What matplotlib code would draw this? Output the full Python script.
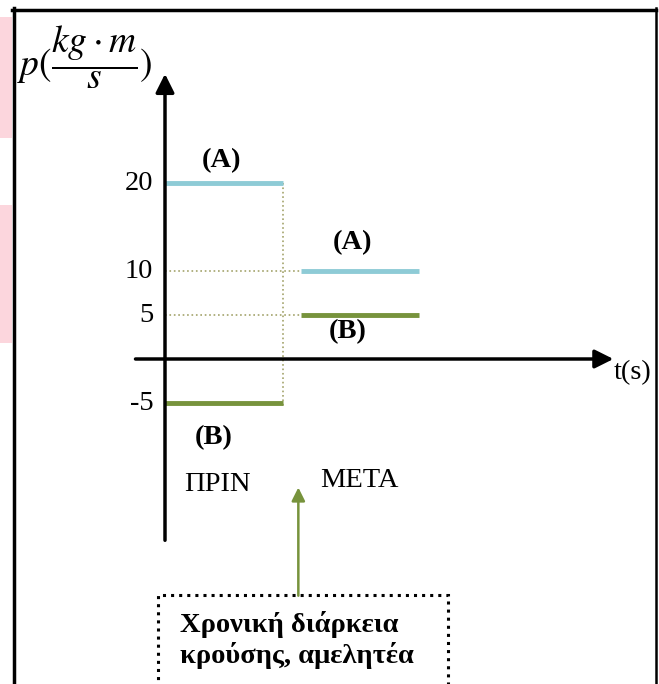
import matplotlib
matplotlib.use("Agg")
import matplotlib.pyplot as plt
from matplotlib.patches import Rectangle
from matplotlib.lines import Line2D

plt.rcParams['font.family'] = ['Liberation Serif', 'DejaVu Serif']
plt.rcParams['mathtext.fontset'] = 'stix'

# data
t_before = [0.0, 1.0]          # interval before the collision
t_after = [1.15, 2.15]         # interval after the collision
p_A = [20, 10]                 # momentum of A before / after
p_B = [-5, 5]                  # momentum of B before / after
tick_vals = [20, 10, 5, -5]
tick_labels = ['20', '10', '5', '-5']

col_A = '#8ecbd6'
col_B = '#77933c'
col_dot = '#a3a36b'
fs = 20.5

W, H = 659, 684
fig = plt.figure(figsize=(W / 100, H / 100), dpi=100)
ax = fig.add_axes([0, 0, 1, 1])
ax.set_axis_off()

# pixel -> data mapping: t=0 at x=165, 118 px per unit; p=0 at y=359, 8.8 px per unit
x0, sx = 165, 118
y0, sy = 359, 8.8
ax.set_xlim(-x0 / sx, (W - x0) / sx)
ax.set_ylim(-(H - y0) / sy, y0 / sy)


def fx(px):
    return px / W


def fy(py):
    return 1 - py / H


# slide background bits: pink patches and black frame
for top, bot in [(17, 138), (205, 343)]:
    fig.add_artist(Rectangle((0, fy(bot)), fx(12), (bot - top) / H,
                             transform=fig.transFigure, color='#fcd6dd', lw=0))
fig.add_artist(Line2D([fx(13.5), fx(13.5)], [fy(8), 0], transform=fig.transFigure, color='k', lw=2.5))
fig.add_artist(Line2D([fx(12), fx(656)], [fy(9.5), fy(9.5)], transform=fig.transFigure, color='k', lw=2.5))
fig.add_artist(Line2D([fx(655.5), fx(655.5)], [fy(8), 0], transform=fig.transFigure, color='k', lw=1.8))

# axes with arrows
ax.annotate('', xy=(0, 32.4), xytext=(0, -20.6),
            arrowprops=dict(arrowstyle='-|>', lw=2.5, color='k', mutation_scale=28, shrinkA=0, shrinkB=0))
ax.annotate('', xy=(3.8, 0), xytext=(-0.25, 0),
            arrowprops=dict(arrowstyle='-|>', lw=2.5, color='k', mutation_scale=28, shrinkA=0, shrinkB=0))

# dotted guide lines
ax.plot([t_before[1], t_before[1]], [p_A[0], p_B[0] - 0.5], ls=':', color=col_dot, lw=1.2)
for v in [p_A[1], p_B[1]]:
    ax.plot([t_before[0], t_after[0]], [v, v], ls=':', color=col_dot, lw=1.2)

# momentum segments
ax.plot(t_before, [p_A[0]] * 2, color=col_A, lw=3.5, solid_capstyle='butt')
ax.plot(t_after, [p_A[1]] * 2, color=col_A, lw=3.5, solid_capstyle='butt')
ax.plot(t_before, [p_B[0]] * 2, color=col_B, lw=3.5, solid_capstyle='butt')
ax.plot(t_after, [p_B[1]] * 2, color=col_B, lw=3.5, solid_capstyle='butt')

# tick labels
for v, lab in zip(tick_vals, tick_labels):
    ax.text(-0.1, v, lab, ha='right', va='center', fontsize=fs)

# segment labels
ax.text(0.48, p_A[0] + 2.5, '(A)', ha='center', va='center', fontsize=fs, fontweight='bold')
ax.text(1.59, p_A[1] + 3.2, '(A)', ha='center', va='center', fontsize=fs, fontweight='bold')
ax.text(1.55, p_B[1] - 1.9, '(B)', ha='center', va='center', fontsize=fs, fontweight='bold')
ax.text(0.41, p_B[0] - 3.9, '(B)', ha='center', va='center', fontsize=fs, fontweight='bold')
ax.text(0.44, -14.3, 'ΠΡΙΝ', ha='center', va='center', fontsize=fs)
ax.text(1.65, -13.8, 'ΜΕΤΑ', ha='center', va='center', fontsize=fs)
ax.text(3.8, -1.6, 't(s)', ha='left', va='center', fontsize=fs)

# axis title
fig.text(fx(85), fy(57), r'$p(\dfrac{kg\cdot m}{s})$', ha='center', va='center', fontsize=27)

# collision-duration note
ax.annotate('', xy=(1.13, -14.6), xytext=(1.13, -26.9),
            arrowprops=dict(arrowstyle='-|>', lw=1.8, color=col_B, mutation_scale=20, shrinkA=0, shrinkB=0))
fig.add_artist(Rectangle((fx(158), fy(690)), (448 - 158) / W, (690 - 595) / H,
                         transform=fig.transFigure, fill=False, ls=':', lw=2.2, ec='k'))
fig.text(fx(180), fy(640), 'Χρονική διάρκεια\nκρούσης, αμελητέα', ha='left', va='center',
         fontsize=fs, fontweight='bold', linespacing=1.2)

fig.savefig('out.png', dpi=100)
